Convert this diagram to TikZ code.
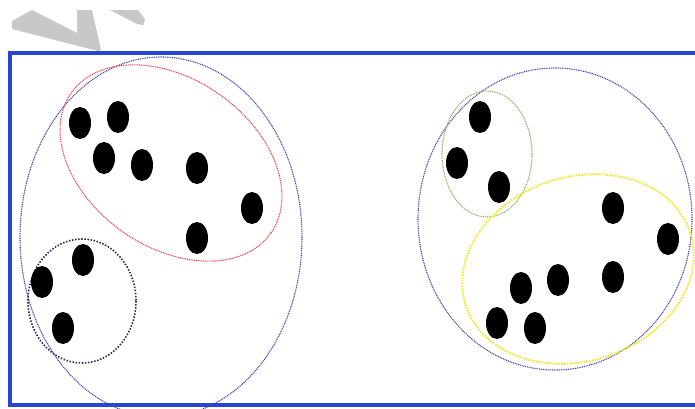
\documentclass[tikz,border=0pt]{standalone}
\usepackage{tikz}
\definecolor{frameblue}{RGB}{40,70,210}
\definecolor{ringblue}{RGB}{70,70,170}
\definecolor{ringred}{RGB}{230,70,80}
\definecolor{ringnavy}{RGB}{40,40,80}
\definecolor{ringgreen}{RGB}{140,175,100}
\definecolor{ringyellow}{RGB}{235,235,50}
\definecolor{markgray}{RGB}{200,200,200}
\tikzset{
  pt/.style={fill=black},
  bigring/.style={ringblue, line width=1.1pt, dash pattern=on 1pt off 0.8pt},
  cluster/.style={line width=1.1pt, dash pattern=on 1pt off 0.8pt}
}

\begin{document}
\begin{tikzpicture}[x=1pt, y=-1pt]
\useasboundingbox (0,0) rectangle (695,408);
\clip (0,0) rectangle (695,408);
% watermark
\fill[markgray] (12,21) -- (32,10) -- (77,33) -- (77,10) -- (92,10) -- (101,50) -- (98,51) -- (12,29) -- cycle;
\fill[markgray] (110,10) -- (138,10) -- (145,19) -- (143,25) -- (137,24) -- cycle;
% left group
\draw[bigring] (161,237) ellipse [x radius=141, y radius=180];
\draw[cluster, ringred] (171,163) ellipse [x radius=122, y radius=84, rotate=-35];
\draw[ringnavy, line width=1.6pt, dash pattern=on 1.5pt off 1.6pt] (82,301) ellipse [x radius=54, y radius=62];
\foreach \px/\py in {80/123, 118/117, 104/158, 142/165, 197/168, 252/208, 197/238, 83/260, 42/282, 63/328}
  \fill[pt] (\px,\py) ellipse [x radius=11, y radius=16];
% right group
\draw[bigring] (555,219) ellipse [x radius=137, y radius=151];
\draw[cluster, ringgreen] (487,154) ellipse [x radius=45, y radius=63];
\draw[ringyellow, line width=2pt, dash pattern=on 1.6pt off 1.2pt] (578,269) ellipse [x radius=118, y radius=92, rotate=18];
\foreach \px/\py in {480/117, 457/163, 499/187, 613/208, 668/239, 613/277, 558/280, 521/288, 497/323, 535/328}
  \fill[pt] (\px,\py) ellipse [x radius=11, y radius=16];
% frame
\draw[frameblue, line width=3.5pt] (700,53) -- (10,53) -- (10,405) -- (700,405);
\end{tikzpicture}
\end{document}
